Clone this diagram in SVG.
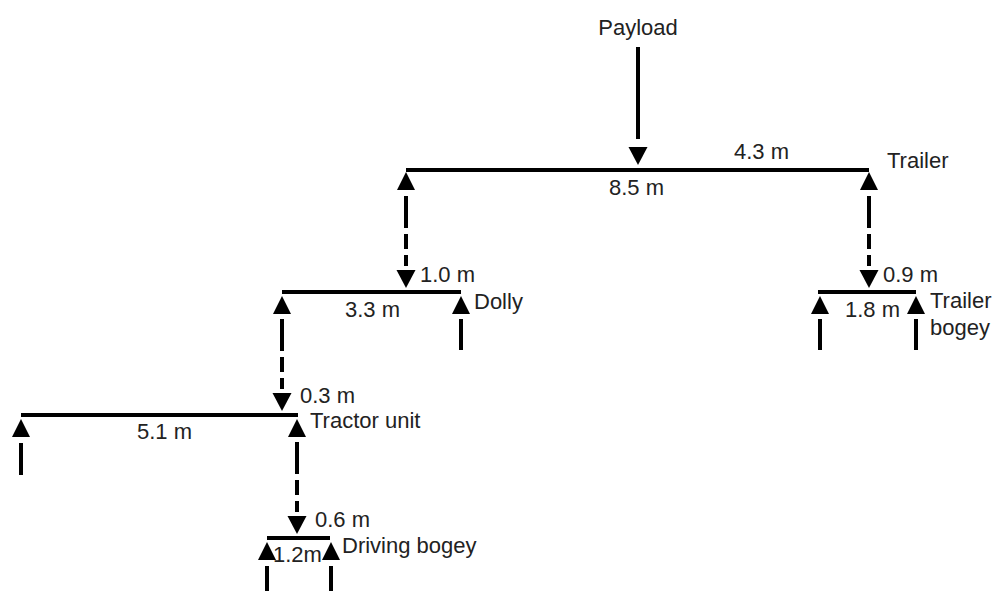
<svg xmlns="http://www.w3.org/2000/svg" width="992" height="591" viewBox="0 0 992 591">
<style>
  .bg { fill: #ffffff; }
  .beam { stroke: #000; stroke-width: 4; fill: none; }
  .solid { stroke: #000; stroke-width: 4; fill: none; }
  .dash { stroke: #000; stroke-width: 4; fill: none; stroke-dasharray: 32 6 15 6; }
  .head { fill: #000; }
  text { font-family: "Liberation Sans", Arial, Helvetica, sans-serif; font-size: 22px; fill: #222; }
</style>
<defs>
  <path id="down" d="M-9.5,-18 L9.5,-18 L0,0 Z"/>
  <path id="up" d="M-9,18 L9,18 L0,0 Z"/>
</defs>
<rect class="bg" x="0" y="0" width="992" height="591"/>

<g id="payload">
  <text x="638" y="35" text-anchor="middle">Payload</text>
</g>

<g id="trailer">
  <line class="beam" x1="406" y1="170" x2="869" y2="170"/>
  <text x="734" y="159">4.3 m</text>
  <text x="609" y="195">8.5 m</text>
  <text x="887" y="168">Trailer</text>
</g>

<g id="dolly">
  <line class="beam" x1="282" y1="292" x2="461" y2="292"/>
  <use href="#up" class="head" x="461" y="296"/>
  <line class="solid" x1="461" y1="319" x2="461" y2="350"/>
  <text x="420" y="282">1.0 m</text>
  <text x="345" y="317">3.3 m</text>
  <text x="474" y="309">Dolly</text>
</g>

<g id="trailer-bogey">
  <line class="beam" x1="818" y1="292" x2="916" y2="292"/>
  <use href="#up" class="head" x="820" y="296"/>
  <use href="#up" class="head" x="916" y="296"/>
  <line class="solid" x1="820" y1="319" x2="820" y2="350"/>
  <line class="solid" x1="916" y1="319" x2="916" y2="350"/>
  <text x="883" y="282">0.9 m</text>
  <text x="845" y="317">1.8 m</text>
  <text x="930" y="308">Trailer</text>
  <text x="930" y="335">bogey</text>
</g>

<g id="tractor-unit">
  <line class="beam" x1="21" y1="415" x2="298" y2="415"/>
  <use href="#up" class="head" x="21" y="419"/>
  <line class="solid" x1="21" y1="443" x2="21" y2="475"/>
  <text x="300" y="403">0.3 m</text>
  <text x="310" y="428">Tractor unit</text>
  <text x="137" y="439">5.1 m</text>
</g>

<g id="driving-bogey">
  <line class="beam" x1="267" y1="538" x2="330" y2="538"/>
  <use href="#up" class="head" x="267" y="542"/>
  <use href="#up" class="head" x="331" y="542"/>
  <line class="solid" x1="267" y1="566" x2="267" y2="591"/>
  <line class="solid" x1="331" y1="566" x2="331" y2="591"/>
  <text x="315" y="527">0.6 m</text>
  <text x="273" y="562">1.2m</text>
  <text x="342" y="553">Driving bogey</text>
</g>

<g id="connectors">
  <!-- payload to trailer -->
  <line class="solid" x1="638" y1="47" x2="638" y2="139"/>
  <use href="#down" class="head" x="638" y="165"/>
  <!-- trailer to dolly -->
  <use href="#up" class="head" x="406" y="172"/>
  <line class="dash" x1="406" y1="196" x2="406" y2="266"/>
  <use href="#down" class="head" x="406" y="288"/>
  <!-- trailer to trailer bogey -->
  <use href="#up" class="head" x="869" y="172"/>
  <line class="dash" x1="869" y1="196" x2="869" y2="266"/>
  <use href="#down" class="head" x="869" y="288"/>
  <!-- dolly to tractor unit -->
  <use href="#up" class="head" x="282" y="296"/>
  <line class="dash" x1="282" y1="319" x2="282" y2="389"/>
  <use href="#down" class="head" x="282" y="411"/>
  <!-- tractor unit to driving bogey -->
  <use href="#up" class="head" x="297" y="419"/>
  <line class="dash" x1="297" y1="442" x2="297" y2="512"/>
  <use href="#down" class="head" x="297" y="534"/>
</g>
</svg>
